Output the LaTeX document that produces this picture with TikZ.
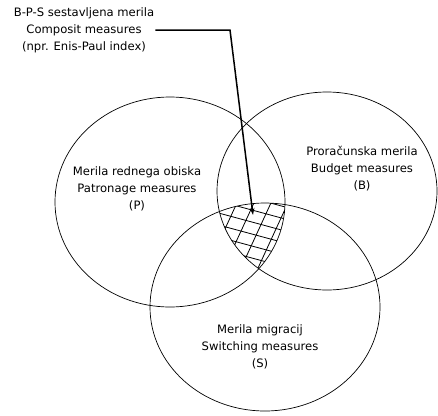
\documentclass[tikz,border=0pt]{standalone}
\usepackage{fontspec}
\setmainfont{DejaVu Sans}
\usetikzlibrary{arrows.meta,shapes.geometric}
\begin{document}
\begin{tikzpicture}[x=1pt,y=-1pt,
  set/.style={draw=black,line width=0.7pt},
  lbl/.style={align=center,font=\fontsize{11.6}{17}\selectfont,inner sep=0pt},
  hatch/.style={draw=black,line width=0.8pt},
  pointer/.style={draw=black,line width=1.5pt,-{Stealth[length=7pt,width=4.5pt]}}]
\useasboundingbox (0,0) rectangle (438,415);

% the three measure sets
\draw[set] (170,202) ellipse [x radius=115, y radius=105];
\draw[set] (327,191) ellipse [x radius=110, y radius=99];
\draw[set] (265,307) ellipse [x radius=115, y radius=104];

% cross-hatched common part of P, B and S
\begin{scope}
  \clip (170,202) ellipse [x radius=115, y radius=105];
  \clip (327,191) ellipse [x radius=110, y radius=99];
  \clip (265,307) ellipse [x radius=115, y radius=104];
  \foreach \k in {-2,...,8}
    \draw[hatch] (200,208+12*\k) -- ++(100,27);
  \foreach \k in {-2,...,6}
    \draw[hatch] (281.5-17*\k,180) -- ++(-46,100);
\end{scope}

% set labels
\node[lbl] (tP) at (137,189) {Merila rednega obiska\\Patronage measures\\(P)};
\node[lbl] (tB) at (362,169) {Proračunska merila\\Budget measures\\(B)};
\node[lbl] (tS) at (260,347) {Merila migracij\\Switching measures\\(S)};
\node[lbl] (tC) at (84,30) {B-P-S sestavljena merila\\Composit measures\\(npr. Enis-Paul index)};

% pointer into the common part
\coordinate (bend) at (230,30);
\coordinate (tip) at (253,215);
\draw[pointer] ([xshift=1pt]tC.east) -- (bend) -- (tip);
\end{tikzpicture}
\end{document}
